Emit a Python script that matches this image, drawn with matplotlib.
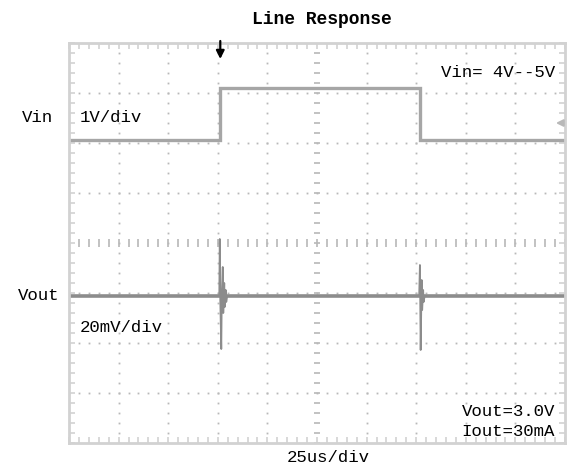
import numpy as np
import matplotlib
matplotlib.use("Agg")
import matplotlib.pyplot as plt

# scope screen: 10 x 8 divisions, values in divisions
vin_t = [0.0, 3.05, 3.05, 7.07, 7.07, 10.0]
vin_v = [2.06, 2.06, 3.10, 3.10, 2.06, 2.06]

vout_base = -1.06
vout_t = [0.0, 3.03, 3.04, 3.05, 3.07, 3.08, 3.10, 3.11, 3.13, 3.14,
          3.16, 3.17, 3.19,
          7.06, 7.075, 7.09, 7.11, 7.12, 7.14, 7.15, 7.17, 10.0]
vout_v = [-1.06, -1.06, 0.08, -1.14, -2.12, -1.06, -0.48, -1.40, -0.80, -1.28,
          -0.94, -1.18, -1.06,
          -1.06, -0.44, -2.14, -0.74, -1.34, -0.94, -1.18, -1.06, -1.06]

grid_c = "#b8b8b8"
border_c = "#d2d2d2"
font = "Liberation Mono"

fig = plt.figure(figsize=(5.68, 4.68), dpi=100)
ax = fig.add_axes([69/568, 1-443/468, 496/568, 400/468])
ax.set_xlim(0, 10)
ax.set_ylim(-4, 4)

for s in ax.spines.values():
    s.set_color(border_c)
    s.set_linewidth(2)
ax.set_xticks(np.arange(0, 10.01, 0.2))
ax.set_yticks(np.arange(-4, 4.01, 0.2))
ax.tick_params(direction="in", length=4, width=1.2, color=border_c,
               top=True, right=True, labelbottom=False, labelleft=False)

# dotted graticule
pts = np.arange(0, 10.01, 0.2)
for i in range(1, 10):
    if i == 5:
        continue
    ax.plot(np.full(41, i), np.arange(-4, 4.01, 0.2), ls="none", marker="s",
            ms=1.3, mfc=grid_c, mec="none")
for j in range(-3, 4):
    if j == 0:
        continue
    ax.plot(pts, np.full(len(pts), j), ls="none", marker="s", ms=1.3,
            mfc=grid_c, mec="none")
# centre lines with small dashes
ax.plot(np.full(41, 5), np.arange(-4, 4.01, 0.2), ls="none", marker="_",
        ms=5, mew=1.2, color=grid_c)
ax.plot(pts, np.zeros(len(pts)), ls="none", marker="|", ms=6, mew=1.2,
        color=grid_c)

# traces
ax.plot(vin_t, vin_v, color="#a6a6a6", lw=2.4, solid_joinstyle="miter")
ax.plot([0, 10], [vout_base, vout_base], color="#8c8c8c", lw=2.6)
ax.plot(vout_t, vout_v, color="#8c8c8c", lw=1.3)

# trigger marker and level marker
ax.annotate("", xy=(3.05, 3.68), xytext=(3.05, 4.04),
            arrowprops=dict(arrowstyle="-|>", color="black", lw=1.6,
                            mutation_scale=12, shrinkA=0, shrinkB=0),
            annotation_clip=False)
ax.annotate("", xy=(9.76, 2.4), xytext=(9.97, 2.4),
            arrowprops=dict(arrowstyle="-|>", color="#b8b8b8", lw=1.5,
                            mutation_scale=10), annotation_clip=False)

fs = 12.5
ax.text(0.22, 2.52, "1V/div", fontsize=fs, family=font, va="center")
ax.text(9.8, 3.42, "Vin= 4V--5V", fontsize=fs, family=font, va="center", ha="right")
ax.text(0.22, -1.68, "20mV/div", fontsize=fs, family=font, va="center")
ax.text(9.8, -3.38, "Vout=3.0V", fontsize=fs, family=font, va="center", ha="right")
ax.text(9.8, -3.78, "Iout=30mA", fontsize=fs, family=font, va="center", ha="right")

fig.text(37/568, 1-117/468, "Vin", fontsize=fs, family=font, ha="center", va="center")
fig.text(39/568, 1-296/468, "Vout", fontsize=fs, family=font, ha="center", va="center")
fig.text(322/568, 1-20/468, "Line Response", fontsize=13, family=font,
         weight="bold", ha="center", va="center")
fig.text(328/568, 1-458/468, "25us/div", fontsize=fs, family=font, ha="center", va="center")

fig.savefig("out.png", dpi=100)
